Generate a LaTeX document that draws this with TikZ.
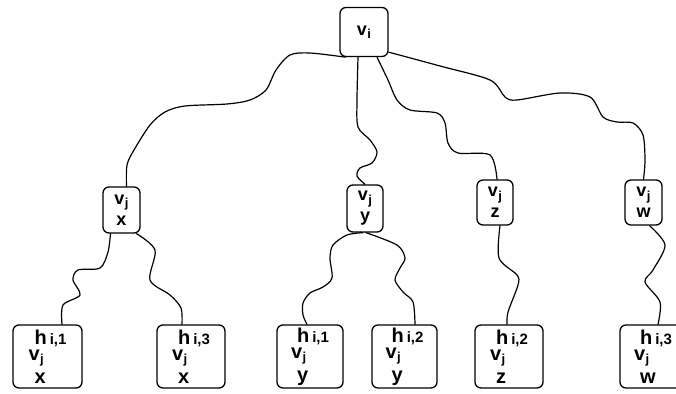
\documentclass[tikz,border=0pt]{standalone}
\usepackage{fontspec}
\setmainfont{Liberation Sans}
\newcommand\vsub[1]{v\kern0.5pt\raisebox{-0.35ex}{\fontsize{13}{13}\selectfont #1}}
\newcommand\leaftext[3]{\hspace*{6pt}h\kern3pt{\fontsize{15}{15}\selectfont i,#1}\\[-3pt]\vsub{#3}\\[4pt]\hspace*{6pt}#2}
\tikzset{
  box/.style={draw, line width=1.3pt, rounded corners=6pt, inner sep=0pt, font=\bfseries\fontsize{18}{21}\selectfont, align=center},
  leafbox/.style={draw, line width=1.3pt, rounded corners=6pt, inner sep=0pt, minimum width=68pt, minimum height=63pt, font=\bfseries\fontsize{20}{19}\selectfont, align=left},
  edge/.style={line width=1.2pt, line cap=round}
}
\begin{document}
\begin{tikzpicture}[x=1pt,y=-1pt]
\useasboundingbox[fill=white] (0,0) rectangle (676,393);
% root
\node[box, minimum width=48pt, minimum height=49pt] (root) at (364,32) {\vsub{i}};
% level 2
\node[box, minimum width=37pt, minimum height=46pt] (vix) at (121.5,210) {\vsub{j}\\x};
\node[box, minimum width=36pt, minimum height=47pt] (viy) at (365,208.5) {\vsub{j}\\y};
\node[box, minimum width=36pt, minimum height=45pt] (viz) at (495,202.5) {\vsub{j}\\z};
\node[box, minimum width=37pt, minimum height=45pt] (viw) at (643.5,202.5) {\vsub{j}\\w};
% leaves
\node[leafbox, minimum width=69pt] (l1) at (47.5,356.5) {\leaftext{1}{x}{j}};
\node[leafbox] (l2) at (191,356.5) {\leaftext{3}{x}{j}};
\node[leafbox, minimum width=66pt] (l3) at (310,356.5) {\leaftext{1}{y}{j}};
\node[leafbox, minimum width=65pt] (l4) at (404.5,356.5) {\leaftext{2}{y}{j}};
\node[leafbox] (l5) at (509,356.5) {\leaftext{2}{z}{j}};
\node[leafbox, minimum width=66pt] (l6) at (653,356.5) {\leaftext{3}{w}{j}};
% edges
\draw[edge] plot[smooth] coordinates {([xshift=6pt]root.south west) (310,53) (290,55) (276,70) (266,90) (250,100) (227,104) (185,106) (165,112) (150,125) (134,150) (127,165) ([xshift=5pt]vix.north)};
\draw[edge] plot[smooth] coordinates {([xshift=-6pt]root.south) (357,100) (358,127) (370,140) (377,152) (372,163) (360,168) (357,176) (viy.north)};
\draw[edge] plot[smooth] coordinates {([xshift=13pt]root.south) (388,80) (397,100) (410,110) (437,113) (445,123) (448,143) (458,153) (490,155) ([xshift=2pt]viz.north)};
\draw[edge] plot[smooth] coordinates {([yshift=5pt]root.south east) (440,66) (490,80) (505,97) (517,100) (560,93) (590,97) (603,117) (617,122) (633,123) (643,135) (645,160) (viw.north)};
\draw[edge] plot[smooth] coordinates {([xshift=-11pt]vix.south) (108,252) (100,268) (78,270) (73,280) (80,295) (63,305) ([xshift=14.5pt]l1.north)};
\draw[edge] plot[smooth] coordinates {([xshift=15pt]vix.south) (155,250) (150,280) (170,295) (181,308) ([xshift=-9pt]l2.north)};
\draw[edge] plot[smooth] coordinates {([xshift=-2pt]viy.south) (347,235) (333,245) (330,258) (332,278) (323,287) (310,293) (303,303) (303,315) ([xshift=-3pt]l3.north)};
\draw[edge] plot[smooth] coordinates {([xshift=1pt]viy.south) (397,245) (405,258) (400,268) (395,280) (403,292) (413,302) ([xshift=10.5pt]l4.north)};
\draw[edge] plot[smooth] coordinates {([xshift=5pt]viz.south) (499,258) (517,275) (518,285) (508,312) ([xshift=-2pt]l5.north)};
\draw[edge] plot[smooth] coordinates {([xshift=6pt]viw.south) (665,245) (653,270) (645,282) (660,302) ([xshift=5pt]l6.north)};
\end{tikzpicture}
\end{document}
